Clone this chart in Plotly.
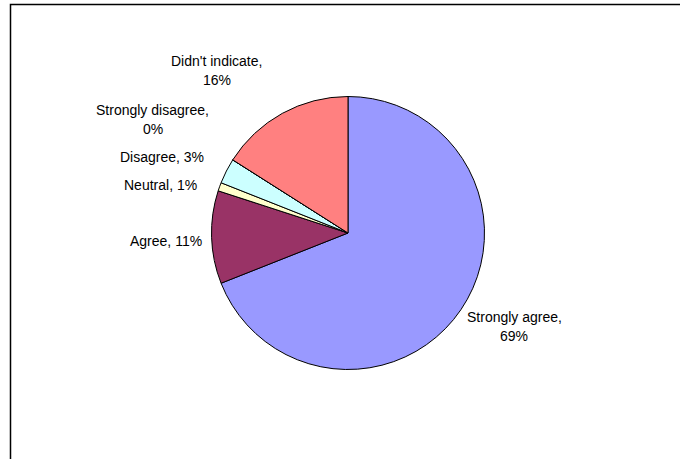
import plotly.graph_objects as go

labels = ["Strongly agree", "Agree", "Neutral", "Disagree", "Strongly disagree", "Didn't indicate"]
values = [69, 11, 1, 3, 0, 16]
colors = ["#9999FF", "#993366", "#FFFFCC", "#CCFFFF", "#660066", "#FF8080"]

W, H = 680, 459
cx, cy, r = 348, 233, 136.5

# label placement (pixel centres) and whether the label wraps onto two lines
label_pos = [(514, 326), (166, 241), (160, 185), (161.5, 157), (152.5, 119.5), (217, 71)]
two_line = [True, False, False, False, True, True]
line_gap = 19

fig = go.Figure(go.Pie(
    labels=labels, values=values, sort=False, direction="clockwise", rotation=0,
    marker=dict(colors=colors, line=dict(color="black", width=1)),
    textinfo="none", hoverinfo="label+percent", showlegend=False,
    domain=dict(x=[(cx - r) / W, (cx + r) / W], y=[(H - cy - r) / H, (H - cy + r) / H]),
))

annotations = []
for lab, val, (px, py), two in zip(labels, values, label_pos, two_line):
    lines = [f"{lab},", f"{val}%"] if two else [f"{lab}, {val}%"]
    n = len(lines)
    for i, t in enumerate(lines):
        yy = py + (i - (n - 1) / 2) * line_gap
        annotations.append(dict(
            text=t, x=px / W, y=(H - yy) / H, xref="paper", yref="paper",
            showarrow=False, xanchor="center", yanchor="middle",
            font=dict(family="Arial, Liberation Sans, sans-serif", size=14, color="black"),
        ))

fig.update_layout(
    width=W, height=H, margin=dict(l=0, r=0, t=0, b=0),
    paper_bgcolor="white", plot_bgcolor="white",
    annotations=annotations,
    shapes=[dict(type="rect", xref="paper", yref="paper",
                 x0=10.5 / W, x1=1.05, y0=-0.05, y1=(H - 4.5) / H,
                 line=dict(color="black", width=1.5), fillcolor="rgba(0,0,0,0)", layer="below")],
)

fig.write_html("out.html")
